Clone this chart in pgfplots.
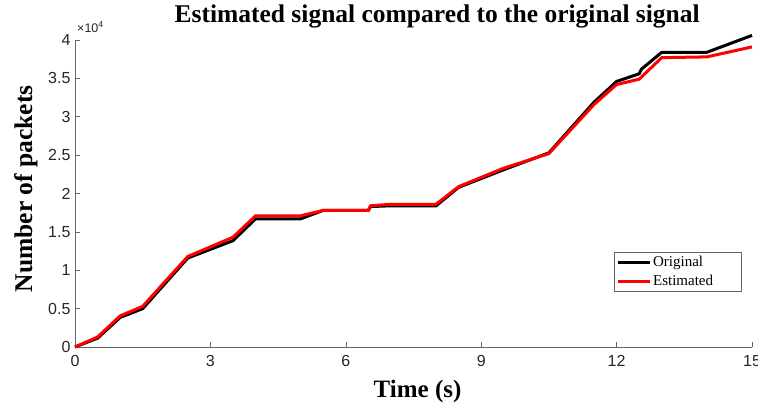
\documentclass[border=0pt]{standalone}
\usepackage{pgfplots}
\pgfplotsset{compat=1.18}
\usepackage{fontspec}
\setmainfont{Liberation Serif}
\newfontfamily\arial{Liberation Sans}
\begin{document}
\begin{tikzpicture}
\useasboundingbox (-75pt,-61pt) rectangle (683pt,347pt);
\begin{axis}[
 at={(0,0)}, anchor=south west,
 scale only axis, width=677pt, height=307pt,
 xmin=0, xmax=15, ymin=0, ymax=40000,
 clip=false,
 axis lines=left,
 axis line style={-, black!60, line width=0.8pt},
 xtick={0,3,6,9,12,15}, xticklabels={0,3,6,9,12,15},
 ytick={0,5000,10000,15000,20000,25000,30000,35000,40000},
 yticklabels={0,0.5,1,1.5,2,2.5,3,3.5,4},
 scaled y ticks=false,
 tick align=inside,
 tick style={black!60, line width=0.6pt}, major tick length=5pt,
 ticklabel style={font=\arial\fontsize{16}{19}\selectfont, text=black!85},
 xticklabel style={yshift=-5pt},
 yticklabel style={xshift=-1pt},
 title={Estimated signal compared to the original signal},
 title style={font=\bfseries\fontsize{25.5}{30}\selectfont, at={(axis description cs:0.535,1)}, anchor=base, yshift=12pt},
 xlabel={Time (s)},
 xlabel style={font=\bfseries\fontsize{25}{30}\selectfont, at={(axis description cs:0.506,0)}, anchor=base, yshift=-50pt},
 ylabel={Number of packets},
 ylabel style={font=\bfseries\fontsize{25.5}{30}\selectfont, at={(axis description cs:-0.0635,0.515)}, anchor=base},
 legend style={at={(axis description cs:0.796,0.309)}, anchor=north west, draw=black!60, fill=white,
   font=\fontsize{15}{17}\selectfont, inner sep=2pt, row sep=3pt},
 legend cell align=left,
 legend image code/.code={\draw[#1] (0pt,0pt) -- (32pt,0pt);},
]
\addplot[black, line width=3pt] coordinates {
(0,0) (0.5,1150) (1,3850) (1.5,5000) (2.5,11600) (3.5,13850) (4,16700) (5,16700)
(5.5,17800) (6.5,17800) (6.55,18300) (7,18400) (8,18400) (8.5,20800) (9.5,23100)
(10.5,25300) (11.5,31900) (12,34600) (12.5,35600) (12.55,36200) (13,38400) (14,38400) (15,40600)
};
\addlegendentry{\makebox[84pt][l]{Original}}
\addplot[red, line width=3pt] coordinates {
(0,0) (0.5,1300) (1,4050) (1.5,5300) (2.5,11800) (3.5,14300) (4,17100) (5,17100)
(5.5,17800) (6.5,17800) (6.55,18400) (7,18600) (8,18600) (8.5,20900) (9.5,23300)
(10.5,25200) (11.5,31600) (12,34200) (12.5,34900) (13,37700) (14,37800) (15,39100)
};
\addlegendentry{\makebox[84pt][l]{Estimated}}
\end{axis}
\node[anchor=base west, font=\arial\fontsize{12.5}{14}\selectfont, text=black!85, inner sep=0pt] at (2pt,315pt) {×10\textsuperscript{4}};
\end{tikzpicture}
\end{document}
